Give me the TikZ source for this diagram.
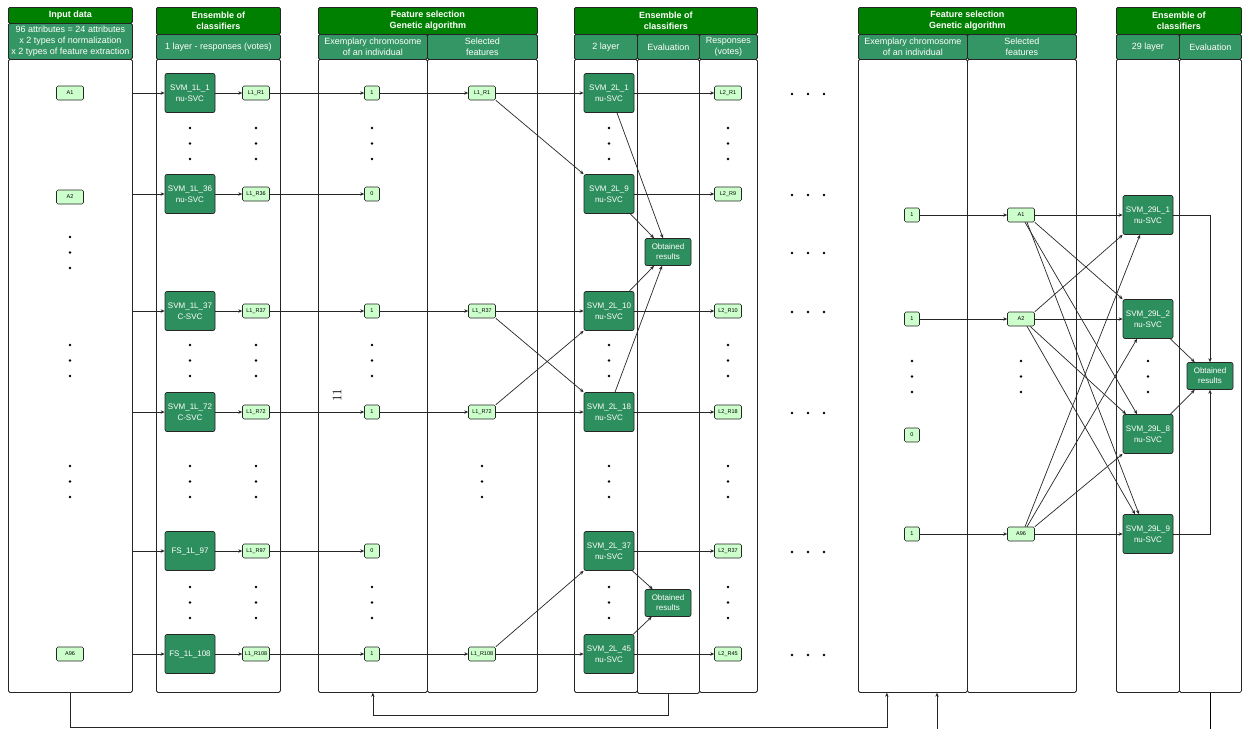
\documentclass[tikz,border=0pt]{standalone}
\usepackage{fontspec}
\setsansfont{Liberation Sans}
\usetikzlibrary{arrows.meta}

\definecolor{hdrgreen}{RGB}{0,128,0}
\definecolor{subgreen}{RGB}{52,150,100}
\definecolor{clfgreen}{RGB}{46,143,94}
\definecolor{votegreen}{RGB}{204,255,204}

\begin{document}
\begin{tikzpicture}[x=1pt, y=-1pt, font=\sffamily,
    panel/.style n args={2}{draw=black!85, line width=0.75pt, rounded corners=1.5pt, inner sep=0pt,
        anchor=north west, minimum width=#1pt, minimum height=#2pt, align=center},
    head/.style={fill=hdrgreen, text=white, font=\sffamily\bfseries\fontsize{9}{11}\selectfont},
    sub/.style={fill=subgreen, text=white, font=\sffamily\fontsize{9}{10.5}\selectfont},
    body/.style={fill=white},
    clf/.style={draw=black!85, line width=0.7pt, fill=clfgreen, text=white, rounded corners=2pt, inner sep=0pt,
        minimum width=50pt, minimum height=39pt, align=center, font=\sffamily\fontsize{8}{10.5}\selectfont},
    res/.style={clf, minimum width=46pt, minimum height=27pt, font=\sffamily\fontsize{8}{10}\selectfont},
    vote/.style={draw=black!85, line width=0.6pt, fill=votegreen, rounded corners=1.5pt, inner sep=0pt,
        minimum width=27pt, minimum height=14pt, font=\sffamily\fontsize{5.5}{6}\selectfont},
    gene/.style={vote, minimum width=15pt},
    arr/.style={draw=black!85, line width=0.7pt, -{Stealth[length=4pt, width=3.4pt]}},
    link/.style={draw=black, line width=1pt}
]

    \useasboundingbox (0,0) rectangle (1247,729);

    \node[panel={124}{633}, body] (inBody) at (8,59) {};
    \node[panel={124}{16}, head] (inHead) at (8,7) {Input data};
    \node[panel={124}{36}, sub, font=\sffamily\fontsize{9}{11}\selectfont] (inSub) at (8,23) {96 attributes = 24 attributes\\x 2 types of normalization\\x 2 types of feature extraction};

    \node[panel={124}{633}, body] (e1Body) at (156,59) {};
    \node[panel={124}{27}, head] (e1Head) at (156,7) {Ensemble of\\classifiers};
    \node[panel={124}{25}, sub] (e1Sub) at (156,34) {1 layer - responses (votes)};

    \node[panel={109}{633}, body] (f1BodyA) at (318,59) {};
    \node[panel={110}{633}, body] (f1BodyB) at (427,59) {};
    \node[panel={219}{27}, head] (f1Head) at (318,7) {Feature selection\\Genetic algorithm};
    \node[panel={109}{25}, sub] (f1SubA) at (318,34) {Exemplary chromosome\\of an individual};
    \node[panel={110}{25}, sub] (f1SubB) at (427,34) {Selected\\features};

    \node[panel={63}{633}, body] (e2BodyA) at (574,59) {};
    \node[panel={62}{634}, body] (e2BodyB) at (637,59) {};
    \node[panel={58}{633}, body] (e2BodyC) at (699,59) {};
    \node[panel={183}{27}, head] (e2Head) at (574,7) {Ensemble of\\classifiers};
    \node[panel={63}{25}, sub] (e2SubA) at (574,34) {2 layer};
    \node[panel={62}{25}, sub] (e2SubB) at (637,34) {Evaluation};
    \node[panel={58}{25}, sub] (e2SubC) at (699,34) {Responses\\(votes)};

    \node[panel={109}{633}, body] (f2BodyA) at (858,59) {};
    \node[panel={109}{633}, body] (f2BodyB) at (967,59) {};
    \node[panel={218}{27}, head] (f2Head) at (858,7) {Feature selection\\Genetic algorithm};
    \node[panel={109}{25}, sub] (f2SubA) at (858,34) {Exemplary chromosome\\of an individual};
    \node[panel={109}{25}, sub] (f2SubB) at (967,34) {Selected\\features};

    \node[panel={63}{633}, body] (e3BodyA) at (1116,59) {};
    \node[panel={62}{633}, body] (e3BodyB) at (1179,59) {};
    \node[panel={125}{27}, head] (e3Head) at (1116,7) {Ensemble of\\classifiers};
    \node[panel={63}{25}, sub] (e3SubA) at (1116,34) {29 layer};
    \node[panel={62}{25}, sub] (e3SubB) at (1179,34) {Evaluation};

    \node[vote] (a1) at (70,93) {A1};
    \node[vote] (a2) at (70,197) {A2};
    \node[vote] (a96) at (70,654) {A96};

    \foreach \y/\i/\lbl/\g in {93/1/{SVM\_1L\_1\\nu-SVC}/1, 194/36/{SVM\_1L\_36\\nu-SVC}/0,
        311/37/{SVM\_1L\_37\\C-SVC}/1, 412/72/{SVM\_1L\_72\\C-SVC}/1,
        551/97/{FS\_1L\_97}/0, 654/108/{FS\_1L\_108}/1} {
        \node[clf] (c1-\i) at (190,\y) {\lbl};
        \node[vote] (r1-\i) at (256,\y) {L1\_R\i};
        \node[gene] (g1-\i) at (372,\y) {\g};
        \draw[arr] (inBody.east |- c1-\i) -- (c1-\i);
        \draw[arr] (c1-\i) -- (r1-\i);
        \draw[arr] (r1-\i) -- (g1-\i);
    }

    \foreach \y/\i in {93/1, 311/37, 412/72, 654/108} {
        \node[vote] (s1-\i) at (482,\y) {L1\_R\i};
        \draw[arr] (g1-\i) -- (s1-\i);
    }

    \foreach \y/\i in {93/1, 194/9, 311/10, 412/18, 551/37, 654/45} {
        \node[clf] (c2-\i) at (609,\y) {SVM\_2L\_\i\\nu-SVC};
        \node[vote] (r2-\i) at (728,\y) {L2\_R\i};
        \draw[arr] (c2-\i) -- (r2-\i);
    }

    \node[res] (ob1) at (668,252) {Obtained\\results};
    \node[res] (ob2) at (668,603) {Obtained\\results};

    \draw[arr] (s1-1) -- (c2-1);
    \draw[arr] (s1-1.south east) -- (c2-9.north west);
    \draw[arr] (s1-37) -- (c2-10);
    \draw[arr] (s1-37.south east) -- (c2-18.north west);
    \draw[arr] (s1-72) -- (c2-18);
    \draw[arr] (s1-72.north east) -- (c2-10.south west);
    \draw[arr] (s1-108) -- (c2-45);
    \draw[arr] (s1-108.north east) -- (c2-37.south west);

    \draw[arr] ([xshift=8pt]c2-1.south) -- ([xshift=-5pt]ob1.north);
    \draw[arr] ([xshift=-4pt]c2-9.south east) -- ([xshift=-14pt]ob1.north);
    \draw[arr] ([xshift=-5pt]c2-10.north east) -- ([xshift=-14pt]ob1.south);
    \draw[arr] ([xshift=6pt]c2-18.north) -- ([xshift=-6pt]ob1.south);
    \draw[arr] ([xshift=-2pt]c2-37.south east) -- ([xshift=8pt]ob2.north west);
    \draw[arr] ([xshift=-1pt]c2-45.north east) -- ([xshift=7pt]ob2.south west);

    \node[gene] (g2-1) at (912,215) {1};
    \node[gene] (g2-2) at (912,319) {1};
    \node[gene] (g2-0) at (912,435) {0};
    \node[gene] (g2-96) at (912,534) {1};
    \node[vote] (s2-1) at (1021,215) {A1};
    \node[vote] (s2-2) at (1021,319) {A2};
    \node[vote] (s2-96) at (1021,534) {A96};
    \foreach \i in {1,2,96}
        \draw[arr] (g2-\i) -- (s2-\i);

    \foreach \y/\i in {215/1, 319/2, 434/8, 534/9}
        \node[clf] (c3-\i) at (1148,\y) {SVM\_29L\_\i\\nu-SVC};
    \node[res] (ob3) at (1210,376) {Obtained\\results};

    \draw[arr] (s2-1) -- (c3-1);
    \draw[arr] (s2-1.south east) -- (c3-2.north west);
    \draw[arr] ([xshift=4pt]s2-1.south) -- ([xshift=-11pt]c3-8.north);
    \draw[arr] ([xshift=6pt]s2-1.south) -- ([xshift=-9pt]c3-9.north);
    \draw[arr] (s2-2.north east) -- (c3-1.south west);
    \draw[arr] (s2-2) -- (c3-2);
    \draw[arr] ([xshift=9pt]s2-2.south) -- ([xshift=-22pt]c3-8.north);
    \draw[arr] ([xshift=6pt]s2-2.south) -- ([xshift=-13pt]c3-9.north);
    \draw[arr] ([xshift=4pt]s2-96.north) -- ([xshift=-8pt]c3-1.south);
    \draw[arr] ([xshift=6pt]s2-96.north) -- ([xshift=-11pt]c3-2.south);
    \draw[arr] (s2-96.north east) -- (c3-8.south west);
    \draw[arr] (s2-96) -- (c3-9);

    \draw[arr] (c3-1) -| (ob3);
    \draw[arr] (c3-9) -| (ob3);
    \draw[arr] ([xshift=-3pt]c3-2.south east) -- ([xshift=8pt]ob3.north west);
    \draw[arr] ([xshift=-3pt]c3-8.north east) -- ([xshift=8pt]ob3.south west);

    \foreach \x/\y in {70/237, 70/345, 70/466, 190/128, 190/345, 190/466, 190/587,
        256/128, 256/345, 256/466, 256/587, 372/128, 372/345, 372/587, 482/466,
        609/128, 609/345, 609/466, 609/587, 728/128, 728/345, 728/466, 728/587,
        912/361, 1021/361, 1148/361}
        \foreach \d in {0,15.5,31}
            \fill (\x,\y+\d) circle (1.4pt);

    \foreach \y in {93,194,252,311,412,551,654}
        \foreach \x in {792,808,824}
            \fill (\x,\y+1) circle (1.4pt);

    \node[font=\rmfamily\fontsize{13}{13}\selectfont, rotate=90] (pageno) at (337,395) {11};

    \draw[arr] (e2BodyB.south) -- ++(0,22) -| (f1BodyA.south);
    \draw[arr] (inBody.south) -- ++(0,35) -| ([xshift=-26pt]f2BodyA.south);
    \coordinate (feedIn) at (937,729);
    \draw[arr] (feedIn) -- (feedIn |- f2BodyA.south);
    \coordinate (feedOut) at (1210.5,729);
    \draw[link] (feedOut |- e3BodyB.south) -- (feedOut);

\end{tikzpicture}
\end{document}
